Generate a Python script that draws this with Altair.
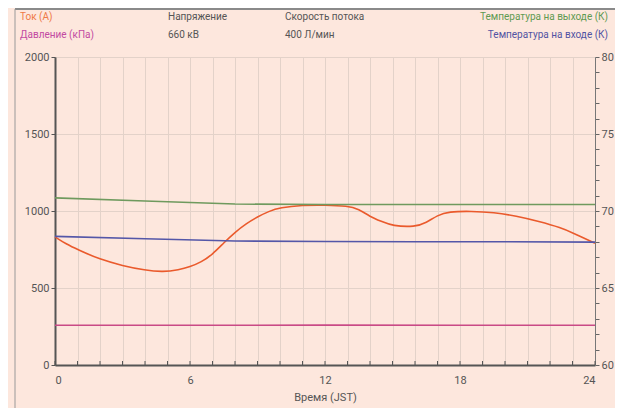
import altair as alt
import pandas as pd

# ---- data ----
hours_cur = [0, 0.5, 1, 2, 3, 4, 4.8, 5.5, 6, 6.5, 7, 7.5, 8, 8.5, 9, 9.5, 10, 11, 12, 13,
             13.5, 14, 14.5, 15, 16, 16.5, 17, 17.5, 18.5, 19.5, 20.5, 21.5, 22.5, 23, 24]
current_a = [832, 785, 750, 685, 645, 615, 604, 618, 638, 668, 718, 793, 862, 918, 962, 998,
             1022, 1038, 1038, 1033, 1013, 963, 933, 903, 896, 923, 973, 996, 999, 991, 968,
             933, 891, 859, 790]

hours_temp = [0, 4, 8, 12, 16, 20, 24]
temp_out_k = [70.85, 70.65, 70.45, 70.42, 70.42, 70.42, 70.42]
temp_in_k = [68.35, 68.2, 68.05, 68.02, 68.0, 68.0, 67.98]

hours_pres = [0, 6, 12, 18, 24]
pressure_kpa = [258, 258, 259, 258, 258]

x_ticks = list(range(0, 25))
left_ticks = [0, 500, 1000, 1500, 2000]
right_ticks = list(range(60, 81))

FONT = "Roboto"
BG = "#fde7dd"
ORANGE = "#ea5a2c"
GREEN = "#6f9a5e"
BLUE = "#5457a8"
MAGENTA = "#c94a86"

cur_df = pd.DataFrame({"h": hours_cur, "v": current_a})
tout_df = pd.DataFrame({"h": hours_temp, "v": temp_out_k})
tin_df = pd.DataFrame({"h": hours_temp, "v": temp_in_k})
pres_df = pd.DataFrame({"h": hours_pres, "v": pressure_kpa})
tick_df = pd.DataFrame({"h": x_ticks})

X = alt.X("h:Q", scale=alt.Scale(domain=[0, 24], nice=False),
          axis=alt.Axis(values=x_ticks, title="Время (JST)",
                        labelExpr="datum.value % 6 == 0 ? datum.label : ''",
                        grid=True, gridColor="#e3d2c9", gridWidth=1,
                        tickSize=0, domainColor="#555", domainWidth=2,
                        labelColor="#555", labelFontSize=11, labelPadding=9,
                        titleColor="#555", titleFontSize=11, titleFontWeight="normal",
                        titlePadding=6, labelFont=FONT, titleFont=FONT))

YL = alt.Y("v:Q", scale=alt.Scale(domain=[0, 2000], nice=False),
           axis=alt.Axis(values=left_ticks, title=None, grid=True, format="d",
                         gridColor="#e3d2c9", tickSize=4, tickColor="#555",
                         domainColor="#555", domainWidth=2, labelColor="#555",
                         labelFontSize=11, labelFont=FONT, labelPadding=2))

YR = alt.Y("v:Q", scale=alt.Scale(domain=[60, 80], nice=False),
           axis=alt.Axis(values=right_ticks, orient="right", title=None, grid=False,
                         labelExpr="datum.value % 5 == 0 ? datum.label : ''",
                         tickSize=4, tickColor="#666", domainColor="#777",
                         domainWidth=1, labelColor="#555", labelFontSize=11,
                         labelFont=FONT, labelPadding=2))

pres = alt.Chart(pres_df).mark_line(color=MAGENTA, strokeWidth=1.6).encode(x=X, y=YL)
cur = alt.Chart(cur_df).mark_line(color=ORANGE, strokeWidth=1.6, interpolate="basis").encode(x=X, y=YL)
left = alt.layer(pres, cur)

tout = alt.Chart(tout_df).mark_line(color=GREEN, strokeWidth=1.6).encode(x=X, y=YR)
tin = alt.Chart(tin_df).mark_line(color=BLUE, strokeWidth=1.6).encode(x=X, y=YR)
right = alt.layer(tout, tin)

ticks = alt.Chart(tick_df).mark_rule(color="#555", strokeWidth=1).encode(
    x=X, y=alt.value(308), y2=alt.value(304))


def label(txt, x, y, color, align="left"):
    return alt.Chart(pd.DataFrame({"t": [txt]})).mark_text(
        align=align, baseline="middle", font=FONT, fontSize=10, color=color,
        clip=False).encode(text="t:N", x=alt.value(x), y=alt.value(y))


headers = alt.layer(
    label("Ток (А)", -35, -40, "#ef7a45"),
    label("Давление (кПа)", -35, -22, "#c24aa2"),
    label("Напряжение", 113, -40, "#555"),
    label("660 кВ", 113, -22, "#555"),
    label("Скорость потока", 230, -40, "#555"),
    label("400 Л/мин", 230, -22, "#555"),
    label("Температура на выходе (К)", 553, -40, "#5f9a52", "right"),
    label("Температура на входе (К)", 553, -22, "#5253a3", "right"),
)

frame_top = alt.Chart(pd.DataFrame({"a": [0]})).mark_rule(color="#8a8a8a", strokeWidth=2).encode(
    x=alt.value(-40), x2=alt.value(570), y=alt.value(-48))
frame_left = alt.Chart(pd.DataFrame({"a": [0]})).mark_rule(color="#999", strokeWidth=1).encode(
    x=alt.value(-40), y=alt.value(-48), y2=alt.value(360))

chart = alt.layer(left, right, ticks, headers, frame_top, frame_left).resolve_scale(
    y="independent"
).properties(
    width=540, height=308,
    autosize=alt.AutoSizeParams(type="none"),
    padding={"left": 47, "top": 49, "right": 20, "bottom": 43},
    background=BG,
).configure_view(stroke="#9a9a9a", strokeWidth=1)

chart.save("out.html", embed_options={"renderer": "svg", "actions": False})
